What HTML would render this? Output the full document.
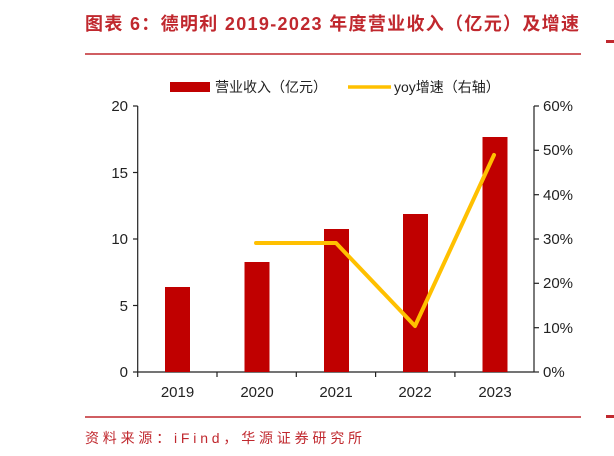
<!DOCTYPE html>
<html><head><meta charset="utf-8"><style>
body{margin:0;width:614px;height:456px;background:#fff;overflow:hidden;font-family:"Liberation Sans","Noto Sans CJK SC",sans-serif}
</style></head><body>
<svg width="614" height="456" xmlns="http://www.w3.org/2000/svg" style="position:absolute;left:0;top:0">
<text x="85" y="30" font-size="18" font-weight="bold" fill="#c0282e" textLength="494" font-family="Liberation Sans,Noto Sans CJK SC,sans-serif">图表 6：德明利 2019-2023 年度营业收入（亿元）及增速</text>
<line x1="85" y1="54" x2="581" y2="54" stroke="#c0282e" stroke-width="1.5"/>
<rect x="606" y="40" width="8" height="3" fill="#c0282e"/>
<rect x="170" y="82" width="40" height="10" fill="#c00000"/>
<text x="215" y="92" font-size="14" fill="#222">营业收入（亿元）</text>
<line x1="348" y1="87" x2="391" y2="87" stroke="#ffc000" stroke-width="3.5"/>
<text x="394" y="92" font-size="14" fill="#222">yoy增速（右轴）</text>
<g stroke="#222" stroke-width="1.2">
<line x1="137.7" y1="106" x2="137.7" y2="372"/>
<line x1="534" y1="106" x2="534" y2="372"/>
<line x1="137.7" y1="372" x2="534" y2="372"/>
<line x1="133" y1="106" x2="137.7" y2="106"/><line x1="133" y1="172.5" x2="137.7" y2="172.5"/><line x1="133" y1="239" x2="137.7" y2="239"/><line x1="133" y1="305.5" x2="137.7" y2="305.5"/><line x1="133" y1="372" x2="137.7" y2="372"/>
<line x1="534" y1="106" x2="539" y2="106"/><line x1="534" y1="150.3" x2="539" y2="150.3"/><line x1="534" y1="194.7" x2="539" y2="194.7"/><line x1="534" y1="239" x2="539" y2="239"/><line x1="534" y1="283.3" x2="539" y2="283.3"/><line x1="534" y1="327.7" x2="539" y2="327.7"/><line x1="534" y1="372" x2="539" y2="372"/>
<line x1="137.7" y1="372" x2="137.7" y2="377"/><line x1="217" y1="372" x2="217" y2="377"/><line x1="296.3" y1="372" x2="296.3" y2="377"/><line x1="375.6" y1="372" x2="375.6" y2="377"/><line x1="454.9" y1="372" x2="454.9" y2="377"/>
</g>
<g fill="#c00000">
<rect x="165" y="287" width="25" height="85"/>
<rect x="244.5" y="262" width="25" height="110"/>
<rect x="324" y="229" width="25" height="143"/>
<rect x="403" y="214" width="25" height="158"/>
<rect x="482.5" y="137" width="25" height="235"/>
</g>
<polyline points="256,243 336,243 415,326 494,155" fill="none" stroke="#ffc000" stroke-width="4" stroke-linejoin="round" stroke-linecap="round"/>
<g font-size="15" fill="#222" text-anchor="end">
<text x="128" y="111">20</text><text x="128" y="178">15</text><text x="128" y="244">10</text><text x="128" y="311">5</text><text x="128" y="377">0</text>
</g>
<g font-size="15" fill="#222">
<text x="543" y="111">60%</text><text x="543" y="155">50%</text><text x="543" y="200">40%</text><text x="543" y="244">30%</text><text x="543" y="288">20%</text><text x="543" y="333">10%</text><text x="543" y="377">0%</text>
</g>
<g font-size="15" fill="#222" text-anchor="middle">
<text x="177.5" y="397">2019</text><text x="257" y="397">2020</text><text x="336" y="397">2021</text><text x="415" y="397">2022</text><text x="495" y="397">2023</text>
</g>
<line x1="85" y1="417" x2="581" y2="417" stroke="#c0282e" stroke-width="1.5"/>
<rect x="606" y="415" width="8" height="3" fill="#c0282e"/>
<text x="85" y="443" font-size="14" fill="#c0282e" textLength="277" lengthAdjust="spacing">资料来源：iFind，华源证券研究所</text>
</svg>
</body></html>
